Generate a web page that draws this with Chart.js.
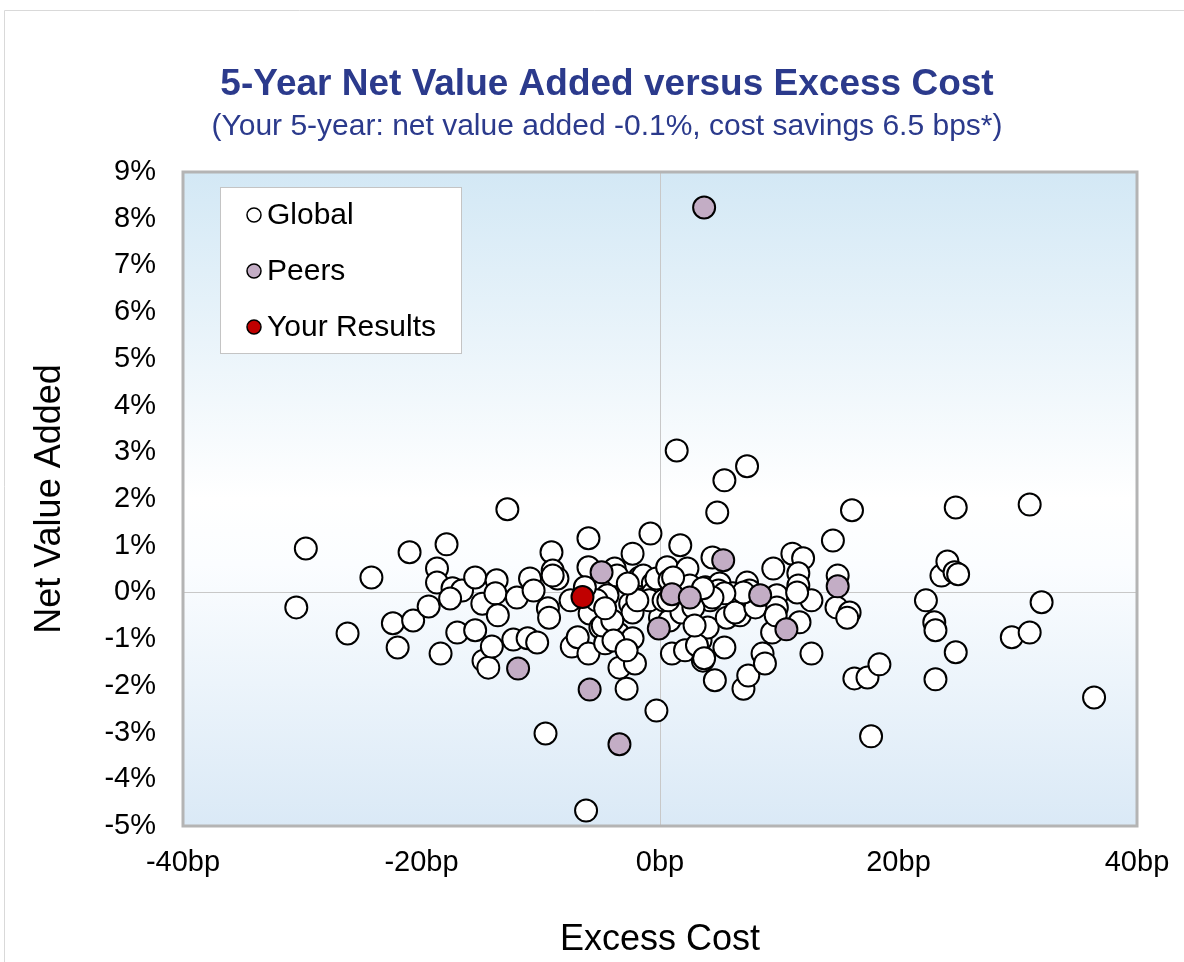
<!DOCTYPE html>
<html lang="en">
<head>
    <meta charset="UTF-8">
    <title>5-Year Net Value Added versus Excess Cost</title>
    <script src="https://cdn.jsdelivr.net/npm/chart.js"></script>
    <style>
        body {
            margin: 0;
            background: #ffffff;
        }
        #chart {
            display: block;
        }
    </style>
</head>
<body>
    <canvas id="chart" width="1184" height="962"></canvas>

    <script>
        // excess cost (bp) and net value added (%)
        const globalCost = [-29.7, -30.5, -26.2, -24.2, -22.4, -22.0, -21.0, -20.7, -19.4, -18.7,
            -18.7, -18.4, -17.9, -17.4, -16.6, -17.6, -17.0, -15.5, -15.5, -14.9,
            -14.8, -14.4, -14.1, -13.7, -13.8, -13.6, -12.8, -12.3, -12.0, -11.1,
            -10.9, -10.6, -10.3, -9.6, -9.4, -9.3, -9.1, -9.0, -8.6, -7.5,
            -7.4, -6.9, -6.2, -6.0, -6.0, -5.9, -6.0, -5.0, -4.4, -4.6,
            -3.8, -3.6, -3.5, -3.4, -2.8, -2.5, -2.3, -2.3, -2.3, -2.1,
            -1.7, -1.4, -0.6, -0.6, -0.8, -0.3, 0.0, -0.3, 0.6, 0.8,
            0.8, 1.0, 1.4, 1.7, 1.9, 2.1, 2.3, 3.4, 3.6, 3.8,
            4.0, 4.2, 4.4, 4.6, 4.8, 5.0, 5.4, 5.4, 5.6, 6.1,
            6.7, 7.0, 7.3, 7.3, 7.4, 7.8, 8.6, 8.8, 9.4, 9.5,
            9.8, 9.8, 11.1, 12.0, 11.6, 11.6, 11.7, 12.7, 12.7, 14.5,
            14.9, 14.8, 15.9, 15.7, 16.1, 16.3, 17.4, 17.7, 18.4, 22.3,
            23.0, 23.1, 23.1, 23.6, 24.1, 24.7, 25.0, 24.8, 24.8, 29.5,
            31.0, 31.0, 32.0, 36.4,
            -5.3, -4.8, -4.0, -3.9, -2.8, -0.9, 0.3, 1.8, 2.8, 3.1, 3.7, 4.9, 6.3, 8.0, 9.7, 11.5,
            -1.9, 2.5, 2.9, 7.5, -2.7, -4.6, -6.3, 0.7,
            1.1, 7.0, 5.4, 4.4, 3.6, -9.0];
        const globalValue = [0.94, -0.32, -0.88, 0.32, -0.66, -1.18, 0.86, -0.60, -0.30, 0.51,
            0.21, -1.31, 1.03, 0.09, 0.04, -0.13, -0.86, 0.32, -0.81, -0.24,
            -1.46, -1.61, -1.16, 0.26, -0.02, -0.49, 1.78, -1.01, -0.11, -0.98,
            0.30, 0.04, -1.07, -3.02, -0.34, -0.54, 0.86, 0.47, 0.30, -0.17,
            -1.16, -0.96, -4.67, 1.16, 0.54, -0.45, -1.31, -0.75, -0.06, -1.09,
            0.51, 0.36, -0.88, -1.61, -2.06, -0.24, -0.43, 0.83, -0.98, -1.52,
            0.32, 0.36, 0.19, -0.02, 1.26, -2.53, -0.54, 0.30, 0.54, 0.26,
            -0.60, -1.31, 3.04, 1.01, -0.34, -1.24, 0.51, -1.03, -1.46, 0.11,
            -0.75, -0.17, 0.75, -1.88, 1.71, 0.19, 2.40, -1.18, -0.54, -0.02,
            -0.49, -2.06, 0.21, 2.70, -1.78, -0.28, -1.31, -1.52, -0.86, 0.51,
            -0.06, -0.32, 0.83, 0.73, 0.41, 0.15, -0.64, -0.17, -1.31, 1.11,
            0.36, -0.32, -0.43, -0.54, 1.76, -1.84, -1.82, -3.08, -1.54, -0.17,
            -0.64, -0.81, -1.86, 0.36, 0.66, 0.43, 0.39, 1.82, -1.28, -0.96,
            1.88, -0.86, -0.21, -2.25,
            -0.17, -0.71, -0.60, -1.03, -1.24, -0.17, -0.17, -0.43, -0.32, -1.13, -1.41, 0.04, -0.43, -0.32, -0.49, 0.00,
            -0.17, 0.15, -0.71, 0.04, 0.19, -0.34, 0.11, -0.17,
            0.32, 0.00, -0.02, -0.11, 0.09, 0.36];

        const peerCost = [-11.9, -5.9, -4.9, -3.4, -0.1, 1.0, 2.5, 3.7, 5.3, 8.4, 10.6, 14.9];
        const peerValue = [-1.63, -2.08, 0.43, -3.25, -0.77, -0.04, -0.11, 8.24, 0.69, -0.06, -0.79, 0.13];

        const yourCost = [-6.5];
        const yourValue = [-0.1];

        const seriesNames = ['Global', 'Peers', 'Your Results'];
        const xTicks = [-40, -20, 0, 20, 40];

        const titleText = '5-Year Net Value Added versus Excess Cost';
        const subtitleText = '(Your 5-year: net value added -0.1%, cost savings 6.5 bps*)';

        const FONT = 'Arial, "Liberation Sans", sans-serif';

        function toPoints(xs, ys) {
            return xs.map((x, i) => ({ x: x, y: ys[i] }));
        }

        // background gradient, frame, titles and the boxed legend
        const decor = {
            id: 'decor',
            beforeDraw(chart) {
                const ctx = chart.ctx;
                const a = chart.chartArea;
                ctx.save();
                ctx.strokeStyle = '#d9d9d9';
                ctx.lineWidth = 1;
                ctx.beginPath();
                ctx.moveTo(4.5, chart.height);
                ctx.lineTo(4.5, 10.5);
                ctx.lineTo(chart.width, 10.5);
                ctx.stroke();

                const g = ctx.createLinearGradient(0, a.top, 0, a.bottom);
                g.addColorStop(0, '#d3e8f5');
                g.addColorStop(0.5, '#ffffff');
                g.addColorStop(0.6, '#fbfdff');
                g.addColorStop(1, '#dae9f6');
                ctx.fillStyle = g;
                ctx.fillRect(a.left, a.top, a.right - a.left, a.bottom - a.top);

                ctx.fillStyle = '#2b3a8c';
                ctx.textAlign = 'center';
                ctx.textBaseline = 'alphabetic';
                ctx.font = 'bold 37px ' + FONT;
                ctx.fillText(titleText, 607, 95);
                ctx.font = '30px ' + FONT;
                ctx.fillText(subtitleText, 607, 135);
                ctx.restore();
            },
            beforeDatasetsDraw(chart) {
                const ctx = chart.ctx;
                const a = chart.chartArea;
                ctx.save();
                ctx.strokeStyle = '#b4b4b4';
                ctx.lineWidth = 3;
                ctx.strokeRect(a.left, a.top, a.right - a.left, a.bottom - a.top);
                ctx.restore();
            },
            afterDraw(chart) {
                const ctx = chart.ctx;
                ctx.save();
                ctx.fillStyle = '#ffffff';
                ctx.strokeStyle = '#c4c4c4';
                ctx.lineWidth = 1;
                ctx.fillRect(220.5, 187.5, 241, 166);
                ctx.strokeRect(220.5, 187.5, 241, 166);
                ctx.font = '30px ' + FONT;
                ctx.textAlign = 'left';
                ctx.textBaseline = 'middle';
                chart.data.datasets.forEach((ds, i) => {
                    const y = 215 + i * 56;
                    ctx.beginPath();
                    ctx.arc(254, y, 7, 0, Math.PI * 2);
                    ctx.fillStyle = ds.backgroundColor;
                    ctx.fill();
                    ctx.lineWidth = 1.5;
                    ctx.strokeStyle = '#000000';
                    ctx.stroke();
                    ctx.fillStyle = '#000000';
                    ctx.fillText(ds.label, 267, y + 1);
                });
                ctx.restore();
            }
        };

        const zeroLine = (c) => (c.tick && c.tick.value === 0 ? '#c8c8c8' : 'rgba(0,0,0,0)');

        new Chart(document.getElementById('chart'), {
            type: 'scatter',
            data: {
                datasets: [
                    {
                        label: seriesNames[0],
                        data: toPoints(globalCost, globalValue),
                        backgroundColor: '#ffffff',
                        borderColor: '#000000',
                        borderWidth: 2,
                        pointRadius: 11,
                        order: 3
                    },
                    {
                        label: seriesNames[1],
                        data: toPoints(peerCost, peerValue),
                        backgroundColor: '#c3adc5',
                        borderColor: '#000000',
                        borderWidth: 2,
                        pointRadius: 11,
                        order: 2
                    },
                    {
                        label: seriesNames[2],
                        data: toPoints(yourCost, yourValue),
                        backgroundColor: '#c00000',
                        borderColor: '#000000',
                        borderWidth: 2,
                        pointRadius: 11,
                        order: 1
                    }
                ]
            },
            options: {
                responsive: false,
                animation: false,
                devicePixelRatio: 1,
                layout: {
                    padding: { left: 0, right: 0, top: 172, bottom: 0 }
                },
                plugins: {
                    legend: { display: false },
                    title: { display: false },
                    tooltip: { enabled: false }
                },
                scales: {
                    x: {
                        type: 'linear',
                        min: -40,
                        max: 40,
                        afterBuildTicks: (s) => { s.ticks = xTicks.map(v => ({ value: v })); },
                        afterFit: (s) => {
                            s.height = 962 - 826;
                            s.paddingRight = 1184 - 1137;
                        },
                        ticks: {
                            callback: (v) => v + 'bp',
                            font: { family: FONT, size: 29 },
                            color: '#000000',
                            padding: 20,
                            maxRotation: 0
                        },
                        grid: { color: zeroLine, lineWidth: 1, drawTicks: false, tickLength: 0 },
                        border: { display: false },
                        title: {
                            display: true,
                            text: 'Excess Cost',
                            font: { family: FONT, size: 36 },
                            color: '#000000',
                            padding: { top: 0, bottom: 0 }
                        }
                    },
                    y: {
                        min: -5,
                        max: 9,
                        afterFit: (s) => { s.width = 183; },
                        ticks: {
                            stepSize: 1,
                            callback: (v) => v + '%',
                            font: { family: FONT, size: 29 },
                            color: '#000000',
                            padding: 27
                        },
                        grid: { color: zeroLine, lineWidth: 1, drawTicks: false, tickLength: 0 },
                        border: { display: false },
                        title: {
                            display: true,
                            text: 'Net Value Added',
                            font: { family: FONT, size: 36 },
                            color: '#000000',
                            padding: { top: 28, bottom: 0 }
                        }
                    }
                }
            },
            plugins: [decor]
        });
    </script>
</body>
</html>
